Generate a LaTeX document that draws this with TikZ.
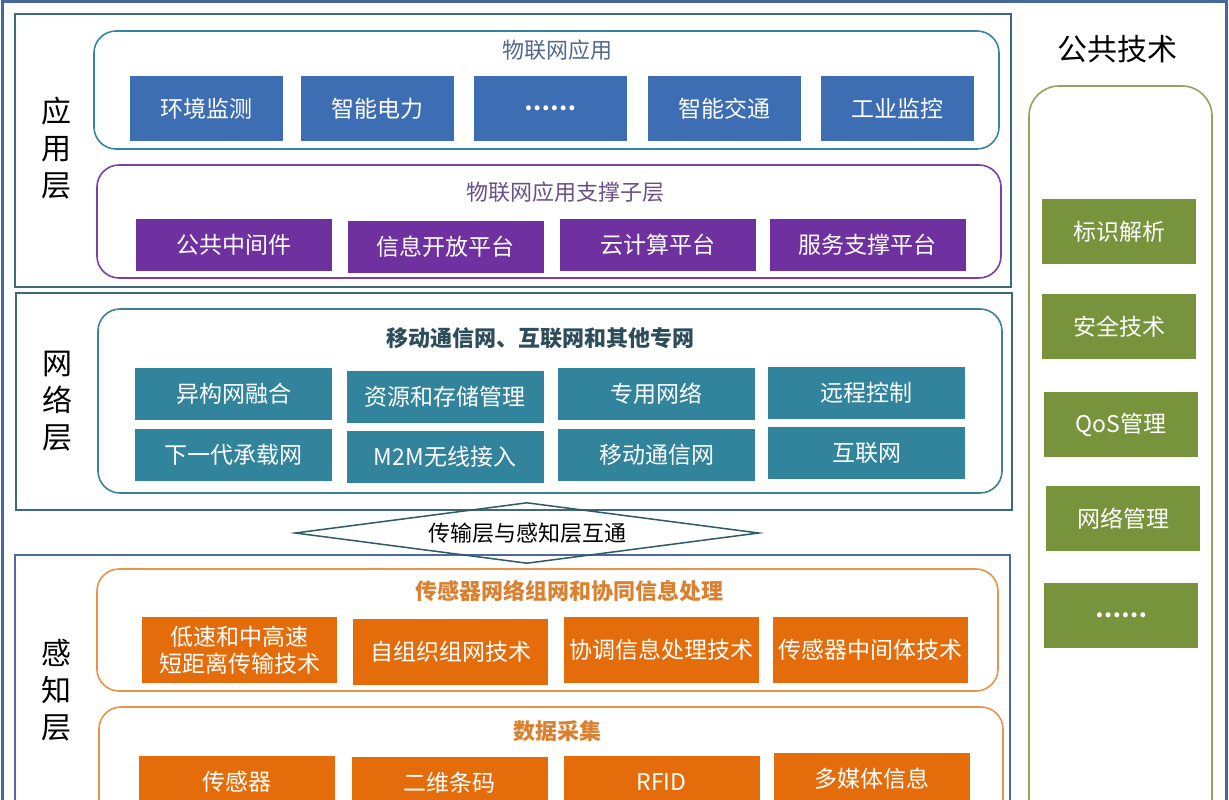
\documentclass[tikz,border=0pt]{standalone}
\usepackage{fontspec}
\newfontfamily\cjk{Noto Sans CJK SC}
\usetikzlibrary{shapes.geometric}
\definecolor{framecol}{HTML}{44699A}
\definecolor{layercol}{HTML}{3E6A78}
\definecolor{layercolb}{HTML}{4A6B9B}
\definecolor{appblue}{HTML}{3D6DB3}
\definecolor{appline}{HTML}{3584A8}
\definecolor{apptitle}{HTML}{50698C}
\definecolor{purp}{HTML}{7031A0}
\definecolor{purpline}{HTML}{7E3EA8}
\definecolor{purptitle}{HTML}{6A5088}
\definecolor{teal}{HTML}{31849B}
\definecolor{tealline}{HTML}{3D8195}
\definecolor{tealtitle}{HTML}{2E4D5A}
\definecolor{orng}{HTML}{E46C0A}
\definecolor{orngline}{HTML}{E7934A}
\definecolor{orngtitle}{HTML}{D98130}
\definecolor{olive}{HTML}{77933C}
\definecolor{oliveline}{HTML}{98A062}
\definecolor{diacol}{HTML}{2F5868}
\begin{document}
\begin{tikzpicture}[x=1pt,y=-1pt,
  layerbox/.style={draw=layercol, line width=2pt},
  groupbox/.style={rounded corners=22pt, line width=1.6pt},
  cell/.style={inner sep=0pt, outer sep=0pt, text=white, align=center,
    font=\cjk\fontsize{23}{27}\selectfont},
  ttl/.style={inner sep=0pt, font=\cjk\fontsize{22}{26}\selectfont},
  side/.style={inner sep=0pt, align=center, font=\cjk\fontsize{30}{37}\selectfont},
  appcell/.style={cell, fill=appblue, minimum width=153pt, minimum height=65pt},
  supcell/.style={cell, fill=purp, minimum width=196pt, minimum height=52pt},
  netcell/.style={cell, fill=teal, minimum width=197pt, minimum height=52pt},
  sencell/.style={cell, fill=orng, minimum width=195pt, minimum height=66pt},
  datcell/.style={cell, fill=orng, minimum width=196pt, minimum height=52pt},
  comcell/.style={cell, fill=olive, minimum width=154pt, minimum height=65pt},
]
\useasboundingbox (0,0) rectangle (1229,800);
\clip (0,0) rectangle (1229,800);
\fill[white] (0,0) rectangle (1229,800);
% outer frame
\draw[framecol, line width=3pt] (2,2) rectangle (1226,840);
% layer boxes
\draw[layerbox] (15,14) rectangle (1011,287);
\draw[layerbox] (16,293) rectangle (1012,510);
\draw[layerbox, draw=layercolb] (15,555) rectangle (1010,840);
% group boxes
\draw[groupbox, appline] (94,31) rectangle (999,149);
\draw[groupbox, purpline] (97,165) rectangle (1001,278);
\draw[groupbox, tealline] (98,309) rectangle (1002,493);
\draw[groupbox, orngline] (97,569) rectangle (998,691);
\draw[groupbox, orngline] (99,707) rectangle (1003,860);
\draw[groupbox, oliveline, rounded corners=30pt] (1029,86) rectangle (1212,860);
% side labels
\node[side] (lapp) at (56,148) {应\\用\\层};
\node[side] (lnet) at (57,401) {网\\络\\层};
\node[side] (lsen) at (56,690) {感\\知\\层};
\node[side] (lcom) at (1117,49) {公共技术};
% titles
\node[ttl, text=apptitle] (tapp) at (557,50) {物联网应用};
\node[ttl, text=purptitle] (tsup) at (565,192) {物联网应用支撑子层};
\node[ttl, text=tealtitle, font=\cjk\bfseries\fontsize{22}{26}\selectfont] (tnet) at (540,338) {移动通信网、互联网和其他专网};
\node[ttl, text=orngtitle, font=\cjk\bfseries\fontsize{22}{26}\selectfont] (tsen) at (569,591) {传感器网络组网和协同信息处理};
\node[ttl, text=orngtitle, font=\cjk\bfseries\fontsize{22}{26}\selectfont] (tdat) at (557,731) {数据采集};
% application cells
\node[appcell] (a1) at (206.5,108.5) {环境监测};
\node[appcell] (a2) at (377.5,108.5) {智能电力};
\node[appcell, font=\cjk\bfseries\fontsize{23}{27}\selectfont] (a3) at (550.5,108.5) {……};
\node[appcell] (a4) at (724.5,108.5) {智能交通};
\node[appcell] (a5) at (897.5,108.5) {工业监控};
% support cells
\node[supcell] (p1) at (234,245) {公共中间件};
\node[supcell] (p2) at (445.5,247) {信息开放平台};
\node[supcell] (p3) at (658,245) {云计算平台};
\node[supcell] (p4) at (867.5,245) {服务支撑平台};
% network cells
\node[netcell] (n1) at (233.5,394) {异构网融合};
\node[netcell] (n2) at (445,397) {资源和存储管理};
\node[netcell] (n3) at (656.5,394) {专用网络};
\node[netcell] (n4) at (866.5,392.5) {远程控制};
\node[netcell] (n5) at (233.5,455) {下一代承载网};
\node[netcell] (n6) at (445,457) {M2M无线接入};
\node[netcell] (n7) at (656.5,455) {移动通信网};
\node[netcell] (n8) at (866.5,453) {互联网};
% link diamond
\node[draw=diacol, line width=1.5pt, shape=diamond, aspect=7.6, inner sep=0pt,
  minimum width=464pt, minimum height=61pt,
  font=\cjk\fontsize{22}{26}\selectfont] (link) at (527,533) {传输层与感知层互通};
% sensor network cells
\node[sencell] (s1) at (239.5,650) {低速和中高速\\短距离传输技术};
\node[sencell] (s2) at (450.5,652) {自组织组网技术};
\node[sencell] (s3) at (661,650) {协调信息处理技术};
\node[sencell] (s4) at (870.5,650) {传感器中间体技术};
% data cells
\node[datcell] (d1) at (236.5,782) {传感器};
\node[datcell] (d2) at (449.5,783) {二维条码};
\node[datcell] (d3) at (661.5,782) {RFID};
\node[datcell] (d4) at (872,779) {多媒体信息};
% common tech cells
\node[comcell] (r1) at (1119,231.5) {标识解析};
\node[comcell] (r2) at (1119,326.5) {安全技术};
\node[comcell] (r3) at (1121,424.5) {QoS管理};
\node[comcell] (r4) at (1123,518.5) {网络管理};
\node[comcell, font=\cjk\bfseries\fontsize{23}{27}\selectfont] (r5) at (1121,615.5) {……};
\end{tikzpicture}
\end{document}
